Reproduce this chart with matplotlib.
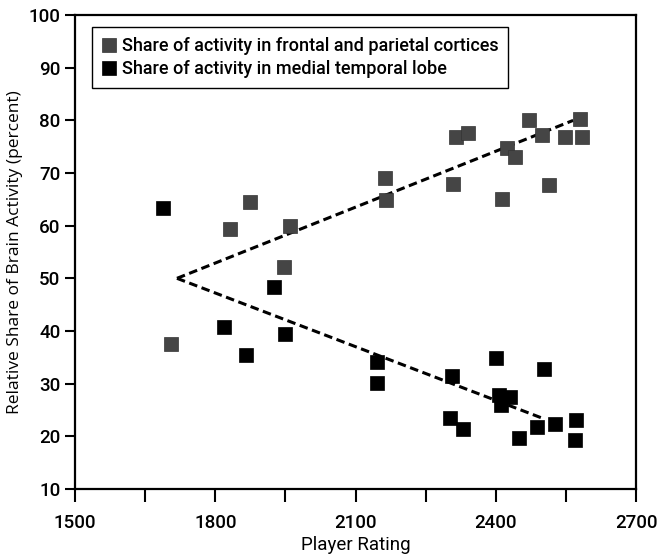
import matplotlib
matplotlib.use("Agg")
import matplotlib.pyplot as plt

# Data
frontal_x = [1705, 1832, 1874, 1946, 1959, 2162, 2164, 2308, 2315, 2340,
             2413, 2424, 2440, 2471, 2499, 2514, 2547, 2580, 2583]
frontal_y = [37.5, 59.4, 64.5, 52.2, 59.9, 69.0, 64.8, 68.0, 76.9, 77.6,
             65.0, 74.75, 73.0, 80.0, 77.3, 67.7, 76.8, 80.3, 76.9]

temporal_x = [1688, 1818, 1865, 1926, 1949, 2146, 2146, 2301, 2305, 2329,
              2401, 2407, 2411, 2430, 2449, 2487, 2503, 2527, 2568, 2572]
temporal_y = [63.4, 40.7, 35.4, 48.3, 39.4, 34.1, 30.1, 23.4, 31.5, 21.3,
              34.8, 27.8, 26.0, 27.4, 19.6, 21.8, 32.7, 22.3, 19.2, 23.1]

trend_upper_x = [1718, 2565]
trend_upper_y = [50.0, 80.0]
trend_lower_x = [1718, 2500]
trend_lower_y = [50.0, 23.4]

x_ticks = [1500, 1650, 1800, 1950, 2100, 2250, 2400, 2550, 2700]
x_tick_labels = ["1500", "", "1800", "", "2100", "", "2400", "", "2700"]
y_ticks = [10, 20, 30, 40, 50, 60, 70, 80, 90, 100]

label_frontal = "Share of activity in frontal and parietal cortices"
label_temporal = "Share of activity in medial temporal lobe"

plt.rcParams['font.family'] = ['Roboto', 'DejaVu Sans']
plt.rcParams['font.weight'] = 500

fig = plt.figure(figsize=(6.58, 5.6), dpi=100)
ax = fig.add_axes([0.114, 0.127, 0.853, 0.846])

ms = 10
ax.plot(trend_upper_x, trend_upper_y, color='black', lw=2.2,
        linestyle=(0, (2.8, 1.5)), zorder=2)
ax.plot(trend_lower_x, trend_lower_y, color='black', lw=2.2,
        linestyle=(0, (2.8, 1.5)), zorder=2)

ax.plot(frontal_x, frontal_y, linestyle='none', marker='s', ms=ms,
        color='#454545', mec='#333333', mew=0.5, label=label_frontal, zorder=3)
ax.plot(temporal_x, temporal_y, linestyle='none', marker='s', ms=ms,
        color='black', mec='black', mew=0.5, label=label_temporal, zorder=3)

ax.set_xlim(1500, 2700)
ax.set_ylim(10, 100)
ax.set_xticks(x_ticks)
ax.set_xticklabels(x_tick_labels)
ax.set_yticks(y_ticks)

ax.tick_params(axis='x', direction='out', length=9, width=1.5, pad=9,
               labelsize=13.5)
ax.tick_params(axis='y', direction='out', length=7.5, width=1.5, pad=3,
               labelsize=13.5)
for s in ax.spines.values():
    s.set_linewidth(1.6)
    s.set_color('black')

ax.set_xlabel("Player Rating", fontsize=13.5, labelpad=3)
ax.set_ylabel("Relative Share of Brain Activity (percent)", fontsize=12.5,
              family=['Open Sans', 'DejaVu Sans'], fontweight='normal',
              labelpad=4)

leg = ax.legend(loc='upper left', bbox_to_anchor=(0.03, 0.975),
                borderaxespad=0, frameon=True, fancybox=False,
                framealpha=1, edgecolor='black', fontsize=13,
                handlelength=0.8, handletextpad=0.3, borderpad=0.55,
                labelspacing=0.3, markerscale=0.95)
leg.get_frame().set_linewidth(1.0)

fig.savefig("out.png", dpi=100)
